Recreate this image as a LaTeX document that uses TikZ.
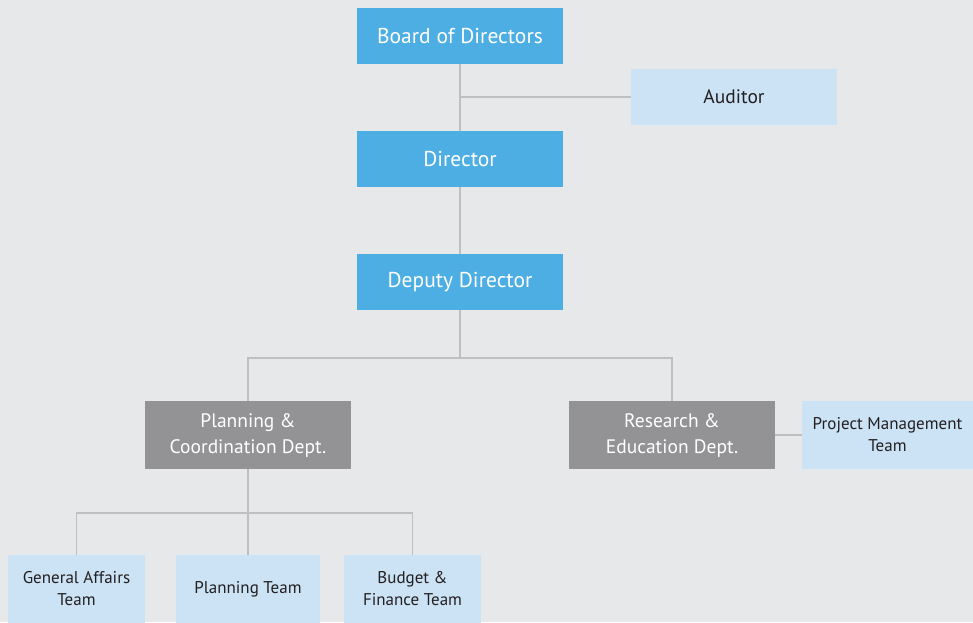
\documentclass[tikz,border=0pt]{standalone}
\usepackage{fontspec}
\setmainfont{PT Sans}
\definecolor{bgcol}{HTML}{E7E8E9}
\definecolor{darkblue}{HTML}{4DAEE3}
\definecolor{lightblue}{HTML}{CBE3F5}
\definecolor{deptgray}{HTML}{939396}
\definecolor{linecol}{HTML}{BDBFC1}
\definecolor{textcol}{HTML}{231F20}
\tikzset{
    topbox/.style={fill=darkblue, text=white, minimum width=206pt, minimum height=56pt, inner sep=0pt, font=\fontsize{21.5}{24}\selectfont},
    sidebox/.style={fill=lightblue, text=textcol, minimum width=206pt, minimum height=56pt, inner sep=0pt, font=\fontsize{19.5}{22}\selectfont},
    deptbox/.style={fill=deptgray, text=white, minimum width=206pt, minimum height=68pt, inner sep=0pt, align=center, font=\fontsize{19.5}{26}\selectfont},
    teambox/.style={fill=lightblue, text=textcol, minimum height=68pt, inner sep=0pt, align=center, font=\fontsize{17}{22}\selectfont},
    link/.style={draw=linecol, line width=1.6pt}
}
\begin{document}
\begin{tikzpicture}[x=1pt, y=-1pt]
            \fill[bgcol] (0,0) rectangle (973,622);
            \clip (0,0) rectangle (973,622);
            % top levels
            \node[topbox] (board) at (460,36) {Board of Directors};
            \node[sidebox] (auditor) at (734,97) {Auditor};
            \node[topbox] (director) at (460,159) {Director};
            \node[topbox] (deputy) at (460,282) {Deputy Director};
            % departments
            \node[deptbox] (planning) at (248,435) {Planning \&\\Coordination Dept.};
            \node[deptbox] (research) at (672,435) {Research \&\\Education Dept.};
            \node[teambox, minimum width=171pt] (project) at (887.5,435) {Project Management\\Team};
            % teams
            \node[teambox, minimum width=137pt] (general) at (76.5,589) {General Affairs\\Team};
            \node[teambox, minimum width=144pt] (planteam) at (248,589) {Planning Team};
            \node[teambox, minimum width=137pt] (budget) at (412.5,589) {Budget \&\\Finance Team};
            % connectors
            \coordinate (split1) at (460,358);
            \coordinate (split2) at (248,513);
            \draw[link] (board) -- (director);
            \draw[link] (auditor.west) -- (auditor.west -| board.south);
            \draw[link] (director) -- (deputy);
            \draw[link] (deputy.south) -- (split1);
            \draw[link] (planning.north) |- (split1) -| (research.north);
            \draw[link] (research) -- (project);
            \draw[link] (planning.south) -- (planteam.north);
            \draw[link] (general.north) |- (split2) -| (budget.north);
\end{tikzpicture}
\end{document}
